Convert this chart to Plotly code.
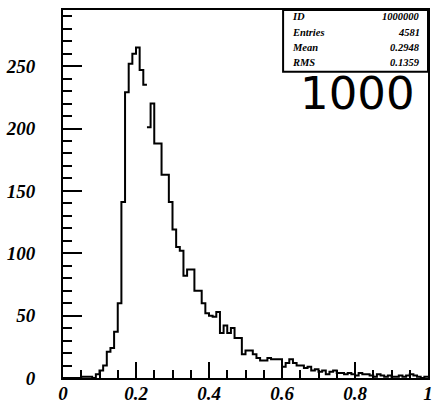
import plotly.graph_objects as go

# ---- data ----
bin_edges = [round(i * 0.01, 2) for i in range(101)]
counts = [
    0, 0, 0, 0, 0, 1, 1, 1, 0, 3,          # 0.00-0.09
    6, 10, 21, 24, 37, 60, 141, 229, 252, 260,  # 0.10-0.19
    265, 247, 235, 201, 220, 188, 188, 163, 163, 141,  # 0.20-0.29
    119, 105, 102, 82, 87, 87, 70, 70, 60, 52,  # 0.30-0.39
    50, 49, 53, 36, 42, 36, 40, 32, 32, 19,     # 0.40-0.49
    22, 22, 19, 16, 14, 14, 16, 15, 15, 15,     # 0.50-0.59
    9, 12, 15, 12, 10, 10, 8, 9, 6, 7,          # 0.60-0.69
    5, 6, 3, 5, 6, 4, 4, 3, 4, 3,               # 0.70-0.79
    2, 4, 3, 3, 2, 1, 3, 2, 1, 2,               # 0.80-0.89
    1, 1, 2, 1, 2, 3, 2, 1, 0, 1,               # 0.90-0.99
]
split_bin = 23  # the reference outline is broken at this bin edge

x_tickvals = [0, 0.2, 0.4, 0.6, 0.8, 1]
x_ticktext = ["0", "0.2", "0.4", "0.6", "0.8", "1"]
y_tickvals = [0, 50, 100, 150, 200, 250]
y_ticktext = ["0", "50", "100", "150", "200", "250"]

stat_names = ["ID", "Entries", "Mean", "RMS"]
stat_values = ["1000000", "4581", "0.2948", "0.1359"]
big_label = "1000"

# ---- figure ----
fig = go.Figure()

def step_trace(i0, i1):
    xs = bin_edges[i0:i1 + 1]
    ys = counts[i0:i1] + [counts[i1 - 1]]
    return go.Scatter(x=xs, y=ys, mode="lines", line=dict(shape="hv", color="black", width=2),
                      hoverinfo="skip", showlegend=False, cliponaxis=False)

fig.add_trace(step_trace(0, split_bin))
fig.add_trace(step_trace(split_bin, len(counts)))

serif = "Liberation Serif"
fig.update_layout(
    width=432, height=405,
    margin=dict(l=63, r=4, t=10, b=27, autoexpand=False),
    paper_bgcolor="white", plot_bgcolor="white",
    showlegend=False,
)
fig.update_xaxes(
    range=[0, 1], showgrid=False, zeroline=False, automargin=False,
    showline=True, linecolor="black", linewidth=2, mirror=True,
    ticks="inside", ticklen=16, tickwidth=1.5, tickcolor="black",
    tickvals=x_tickvals, ticktext=x_ticktext,
    tickfont=dict(family=serif, size=19, color="black", style="italic", weight="bold"),
    ticklabeloverflow="allow", ticklabelstandoff=-3,
    minor=dict(ticks="inside", ticklen=8, tickwidth=1.5, tickcolor="black", dtick=0.05, showgrid=False),
)
fig.update_yaxes(
    range=[0, 295], showgrid=False, zeroline=False, automargin=False,
    showline=True, linecolor="black", linewidth=2, mirror=True,
    ticks="inside", ticklen=19, tickwidth=1.5, tickcolor="black",
    tickvals=y_tickvals, ticktext=y_ticktext,
    tickfont=dict(family=serif, size=19, color="black", style="italic", weight="bold"),
    ticklabelstandoff=22, ticklabeloverflow="allow",
    minor=dict(ticks="inside", ticklen=9, tickwidth=1.5, tickcolor="black", dtick=10, showgrid=False),
)

# stats box
fig.add_shape(type="rect", xref="paper", yref="paper", x0=0.603, x1=1.0, y0=0.832, y1=1.0,
              line=dict(color="black", width=2), fillcolor="white")
row_y = [0.982, 0.939, 0.897, 0.857]
for name, val, yy in zip(stat_names, stat_values, row_y):
    fig.add_annotation(xref="paper", yref="paper", x=0.622, y=yy, text=name, showarrow=False,
                       xanchor="left", yanchor="middle",
                       font=dict(family=serif, size=10.5, color="black", style="italic", weight="bold"))
    fig.add_annotation(xref="paper", yref="paper", x=0.983, y=yy, text=val, showarrow=False,
                       xanchor="right", yanchor="middle",
                       font=dict(family=serif, size=10.5, color="black", style="italic", weight="bold"))

fig.add_annotation(xref="paper", yref="paper", x=0.808, y=0.774, text=big_label, showarrow=False,
                   xanchor="center", yanchor="middle",
                   font=dict(family="DejaVu Sans", size=45, color="black"))

# remove the browser's default body margin so the 432x405 figure fills the window exactly
fig.write_html(
    "out.html",
    config={"displayModeBar": False},
    post_script="document.documentElement.style.overflow='hidden';"
                "document.body.style.margin='0';document.body.style.overflow='hidden';",
)
